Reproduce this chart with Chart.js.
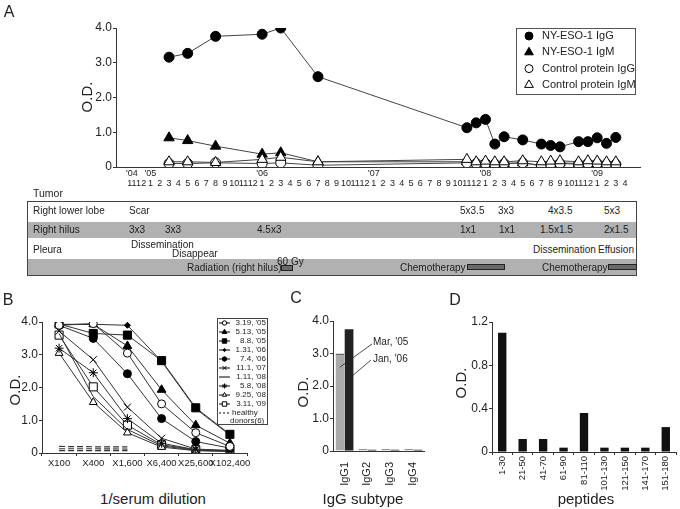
<!DOCTYPE html>
<html>
<head>
<meta charset="utf-8">
<script src="https://cdn.jsdelivr.net/npm/chart.js@4.4.0/dist/chart.umd.min.js"></script>
<style>
  body { margin: 0; background: #fff; }
  #wrap { position: relative; width: 680px; height: 509px; overflow: hidden; font-family: Arial, "Liberation Sans", sans-serif; color: #222; }
  canvas { position: absolute; }
  .c { position: absolute; white-space: nowrap; line-height: 1; transform: translate(-50%, -50%); }
  .v { position: absolute; white-space: nowrap; line-height: 1; transform: translate(-50%, -50%) rotate(-90deg); }
  .l { position: absolute; white-space: nowrap; line-height: 1; font-size: 10px; transform: translateY(-50%); }
  .row { position: absolute; left: 27px; width: 610px; }
  .grey { background: #b1b1b1; }
  .tbar { position: absolute; height: 4px; background: #6a6a6a; border: 1px solid #222; }
</style>
</head>
<body>
<div id="wrap">
  <canvas id="chartA" width="680" height="200" style="left:0;top:0"></canvas>
  <canvas id="chartB" width="270" height="178" style="left:0;top:300px"></canvas>
  <canvas id="chartC" width="140" height="192" style="left:290px;top:300px"></canvas>
  <canvas id="chartD" width="240" height="205" style="left:440px;top:300px"></canvas>

  <!-- judul panel dan sumbu -->
  <div class="c" style="left:9px;top:12px;font-size:16px">A</div>
  <div class="v" style="left:86px;top:97px;font-size:15px">O.D.</div>
  <div class="c" style="left:8px;top:300px;font-size:16px">B</div>
  <div class="v" style="left:14px;top:390px;font-size:15px">O.D.</div>
  <div class="c" style="left:153px;top:498px;font-size:15px">1/serum dilution</div>
  <div class="c" style="left:296px;top:298px;font-size:16px">C</div>
  <div class="v" style="left:302px;top:392px;font-size:15px">O.D.</div>
  <div class="c" style="left:363px;top:498px;font-size:15px">IgG subtype</div>
  <div class="c" style="left:455px;top:300px;font-size:16px">D</div>
  <div class="v" style="left:460px;top:383px;font-size:15px">O.D.</div>
  <div class="c" style="left:586px;top:498px;font-size:15px">peptides</div>

  <!-- tabel tumor -->
  <div class="l" style="left:33px;top:193px;font-size:10.5px">Tumor</div>
  <div class="row grey" style="top:222px;height:16px"></div>
  <div class="row grey" style="top:259px;height:17px"></div>
  <div class="row" style="top:201px;height:75px;border:1px solid #444;box-sizing:border-box"></div>

  <div class="l" style="left:33px;top:211px">Right lower lobe</div>
  <div class="l" style="left:129px;top:211px">Scar</div>
  <div class="l" style="left:460px;top:211px">5x3.5</div>
  <div class="l" style="left:498px;top:211px">3x3</div>
  <div class="l" style="left:548px;top:211px">4x3.5</div>
  <div class="l" style="left:604px;top:211px">5x3</div>

  <div class="l" style="left:33px;top:230px">Right hilus</div>
  <div class="l" style="left:129px;top:230px">3x3</div>
  <div class="l" style="left:165px;top:230px">3x3</div>
  <div class="l" style="left:257px;top:230px">4.5x3</div>
  <div class="l" style="left:460px;top:230px">1x1</div>
  <div class="l" style="left:499px;top:230px">1x1</div>
  <div class="l" style="left:540px;top:230px">1.5x1.5</div>
  <div class="l" style="left:604px;top:230px">2x1.5</div>

  <div class="l" style="left:33px;top:250px">Pleura</div>
  <div class="l" style="left:131px;top:245px">Dissemination</div>
  <div class="l" style="left:172px;top:254px">Disappear</div>
  <div class="l" style="left:533px;top:250px">Dissemination</div>
  <div class="l" style="left:598px;top:250px">Effusion</div>

  <div class="l" style="left:187px;top:268px">Radiation (right hilus)</div>
  <div class="l" style="left:277px;top:262px">60 Gy</div>
  <div class="tbar" style="left:281px;top:265px;width:10px"></div>
  <div class="l" style="left:400px;top:268px">Chemotherapy</div>
  <div class="tbar" style="left:467px;top:264px;width:36px"></div>
  <div class="l" style="left:542px;top:268px">Chemotherapy</div>
  <div class="tbar" style="left:608px;top:264px;width:27px"></div>
</div>

<script>
// ---- Panel A: titer antibodi per bulan (Nov '04 = indeks 0) ----
const bulanLabel = ['11','12',
  '1','2','3','4','5','6','7','8','9','10','11','12',
  '1','2','3','4','5','6','7','8','9','10','11','12',
  '1','2','3','4','5','6','7','8','9','10','11','12',
  '1','2','3','4','5','6','7','8','9','10','11','12',
  '1','2','3','4'];
const tahunPos = [0, 2, 14, 26, 38, 50];
const tahunLabel = ["'04", "'05", "'06", "'07", "'08", "'09"];

const bulanSampel = [4, 6, 9, 14, 16, 20, 36, 37, 38, 39, 40, 42, 44, 45, 46, 48, 49, 50, 51, 52];
const esoIgG  = [3.16, 3.27, 3.76, 3.82, 4.0, 2.6, 1.13, 1.27, 1.37, 0.66, 0.87, 0.78, 0.66, 0.62, 0.58, 0.73, 0.73, 0.84, 0.68, 0.85];
const esoIgM  = [0.84, 0.76, 0.6, 0.37, 0.41, 0.15, 0.15, 0.12, 0.12, 0.1, 0.1, 0.12, 0.03, 0.1, 0.12, 0.1, 0.12, 0.1, 0.1, 0.03];
const ctrlIgG = [0.1, 0.1, 0.12, 0.1, 0.12, 0.05, 0.12, 0.1, 0.1, 0.08, 0.1, 0.12, 0.05, 0.08, 0.1, 0.08, 0.1, 0.1, 0.08, 0.08];
const ctrlIgM = [0.15, 0.15, 0.13, 0.22, 0.28, 0.15, 0.22, 0.15, 0.17, 0.15, 0.15, 0.18, 0.15, 0.17, 0.18, 0.15, 0.18, 0.17, 0.15, 0.15];

// ---- Panel B: kurva pengenceran serum ----
const pengenceran = ['X100', 'X400', 'X1,600', 'X6,400', 'X25,600', 'X102,400'];
const tglSerum = ["3.19, '05", "5.13, '05", "8.8, '05", "1.31, '06", "7.4, '06", "11.1, '07", "1.11, '08", "5.8, '08", "9.25, '08", "3.11, '09"];
const s0319_05 = [3.9, 3.95, 3.05, 1.5, 0.62, 0.2];
const s0513_05 = [3.93, 3.93, 3.27, 1.93, 0.85, 0.3];
const s0808_05 = [3.94, 3.65, 3.6, 2.82, 1.38, 0.57];
const s0131_06 = [3.92, 3.93, 3.9, 2.8, 1.35, 0.55];
const s0704_06 = [3.9, 3.5, 2.42, 1.05, 0.35, 0.15];
const s1101_07 = [3.72, 2.85, 1.4, 0.45, 0.12, 0.08];
const s0111_08 = [3.65, 1.72, 0.72, 0.22, 0.08, 0.05];
const s0508_08 = [3.2, 2.45, 1.05, 0.3, 0.1, 0.06];
const s0925_08 = [3.05, 1.55, 0.62, 0.18, 0.07, 0.05];
const s0311_09 = [3.6, 2.02, 0.85, 0.25, 0.1, 0.07];
const donorSehat = [
  [0.2, 0.19, 0.19], [0.13, 0.13, 0.12], [0.07, 0.07, 0.07]
];

// ---- Panel C: subtipe IgG ----
const subtipe = ['IgG1', 'IgG2', 'IgG3', 'IgG4'];
const subMar05 = [3.0, 0.06, 0.06, 0.06];
const subJan06 = [3.75, 0.04, 0.04, 0.04];

// ---- Panel D: peptida ----
const peptida = ['1-30', '21-50', '41-70', '61-90', '81-110', '101-130', '121-150', '141-170', '151-180'];
const odPeptida = [1.1, 0.12, 0.12, 0.04, 0.36, 0.04, 0.04, 0.04, 0.23];

Chart.defaults.font.family = 'Arial, "Liberation Sans", sans-serif';
Chart.defaults.color = '#222';
Chart.defaults.animation = false;
Chart.defaults.plugins.legend.display = false;
Chart.defaults.plugins.tooltip.enabled = false;

const garis = '#333';

// Menggambar satu penanda (untuk legenda buatan sendiri)
function gambarPenanda(ctx, gaya, x, y, r, isi, tepi) {
  ctx.save();
  ctx.beginPath();
  ctx.fillStyle = isi;
  ctx.strokeStyle = tepi;
  ctx.lineWidth = 1;
  if (gaya === 'circle') {
    ctx.arc(x, y, r, 0, Math.PI * 2);
  } else if (gaya === 'triangle') {
    ctx.moveTo(x, y - r); ctx.lineTo(x + r * 0.866, y + r * 0.5); ctx.lineTo(x - r * 0.866, y + r * 0.5); ctx.closePath();
  } else if (gaya === 'rect') {
    const s = r * Math.SQRT1_2; ctx.rect(x - s, y - s, 2 * s, 2 * s);
  } else if (gaya === 'rectRot') {
    ctx.moveTo(x, y - r); ctx.lineTo(x + r, y); ctx.lineTo(x, y + r); ctx.lineTo(x - r, y); ctx.closePath();
  } else if (gaya === 'crossRot' || gaya === 'star') {
    const s = r * Math.SQRT1_2;
    ctx.moveTo(x - s, y - s); ctx.lineTo(x + s, y + s); ctx.moveTo(x + s, y - s); ctx.lineTo(x - s, y + s);
    if (gaya === 'star') { ctx.moveTo(x, y - r); ctx.lineTo(x, y + r); ctx.moveTo(x - r, y); ctx.lineTo(x + r, y); }
    ctx.stroke(); ctx.restore(); return;
  } else { ctx.restore(); return; }
  ctx.fill(); ctx.stroke();
  ctx.restore();
}

function sumbuY(max, step, lebar) {
  return {
    min: 0, max: max,
    afterFit: s => { s.width = lebar; },
    border: { display: true, color: garis },
    grid: { display: true, drawOnChartArea: false, tickLength: 3, color: garis },
    ticks: { stepSize: step, padding: 1, font: { size: 12 }, callback: v => v === 0 ? '0' : Number(v).toFixed(1) }
  };
}

// ================= Panel A =================
const titik = arr => bulanSampel.map((m, i) => ({ x: m, y: arr[i] }));
const legendaA = {
  id: 'legendaA',
  afterDraw(chart) {
    const ctx = chart.ctx;
    ctx.save();
    ctx.strokeStyle = '#555'; ctx.lineWidth = 1;
    ctx.strokeRect(516.5, 28.5, 119, 66);
    ctx.font = '11px Arial, "Liberation Sans", sans-serif';
    ctx.textBaseline = 'middle';
    chart.data.datasets.forEach((ds, i) => {
      const y = 36 + i * 16.3;
      gambarPenanda(ctx, ds.pointStyle, 529, y, ds.pointStyle === 'triangle' ? 5 : 4, ds.pointBackgroundColor, '#000');
      ctx.fillStyle = '#222';
      ctx.fillText(ds.label, 542, y);
    });
    ctx.restore();
  }
};

new Chart(document.getElementById('chartA'), {
  type: 'line',
  data: {
    datasets: [
      { label: 'NY-ESO-1 IgG', data: titik(esoIgG), pointStyle: 'circle', pointRadius: 5, pointBackgroundColor: '#000', order: 3 },
      { label: 'NY-ESO-1 IgM', data: titik(esoIgM), pointStyle: 'triangle', pointRadius: 6, pointBackgroundColor: '#000', order: 2 },
      { label: 'Control protein IgG', data: titik(ctrlIgG), pointStyle: 'circle', pointRadius: 5, pointBackgroundColor: '#fff', order: 1 },
      { label: 'Control protein IgM', data: titik(ctrlIgM), pointStyle: 'triangle', pointRadius: 6, pointBackgroundColor: '#fff', order: 0 }
    ].map(d => Object.assign({ borderColor: '#444', borderWidth: 1, pointBorderColor: '#000', pointBorderWidth: 1, tension: 0 }, d))
  },
  options: {
    responsive: false,
    layout: { padding: { left: 76, right: 40, top: 28, bottom: 7 } },
    scales: {
      x: {
        type: 'linear', min: -1.7, max: 54.6,
        afterBuildTicks: s => { s.ticks = bulanLabel.map((_, i) => ({ value: i })); },
        afterFit: s => { s.height = 26; },
        border: { display: true, color: garis },
        grid: { display: false },
        ticks: {
          autoSkip: false, maxRotation: 0, minRotation: 0, padding: -6,
          font: { size: 9, lineHeight: 1.05 },
          callback: v => {
            const k = tahunPos.indexOf(v);
            return [k >= 0 ? tahunLabel[k] : '', bulanLabel[v]];
          }
        }
      },
      y: sumbuY(4, 1, 40)
    }
  },
  plugins: [legendaA]
});

// ================= Panel B =================
const gayaB = [
  { s: 'circle', r: 4, f: '#fff' }, { s: 'triangle', r: 5, f: '#000' }, { s: 'rect', r: 5.7, f: '#000' },
  { s: 'rectRot', r: 3, f: '#000' }, { s: 'circle', r: 4, f: '#000' }, { s: 'crossRot', r: 5, f: '#000' },
  { s: 'circle', r: 0, f: '#000' }, { s: 'star', r: 4.5, f: '#000' }, { s: 'triangle', r: 4.5, f: '#fff' },
  { s: 'rect', r: 5.7, f: '#fff' }
];
const seriB = [s0319_05, s0513_05, s0808_05, s0131_06, s0704_06, s1101_07, s0111_08, s0508_08, s0925_08, s0311_09];

const dataB = seriB.map((arr, i) => ({
  label: tglSerum[i], data: arr, borderColor: garis, borderWidth: 1,
  pointStyle: gayaB[i].s, pointRadius: gayaB[i].r, pointBackgroundColor: gayaB[i].f,
  pointBorderColor: '#000', pointBorderWidth: 1, order: i
})).concat(donorSehat.map(arr => ({
  label: 'healthy donors(6)', data: arr, borderColor: garis, borderWidth: 1.2, borderDash: [6, 3], pointRadius: 0, order: 20
})));

const legendaB = {
  id: 'legendaB',
  afterDraw(chart) {
    const ctx = chart.ctx;
    ctx.save();
    ctx.strokeStyle = '#444'; ctx.lineWidth = 1;
    ctx.strokeRect(217.5, 18.5, 50, 106);
    ctx.font = '8px Arial, "Liberation Sans", sans-serif';
    ctx.textBaseline = 'middle';
    tglSerum.forEach((t, i) => {
      const y = 23 + i * 9;
      ctx.strokeStyle = '#000';
      ctx.beginPath(); ctx.moveTo(219, y); ctx.lineTo(230, y); ctx.stroke();
      gambarPenanda(ctx, gayaB[i].s, 224.5, y, gayaB[i].r * 0.55, gayaB[i].f, '#000');
      ctx.fillStyle = '#222'; ctx.textAlign = 'right';
      ctx.fillText(t, 266, y);
    });
    const y = 23 + 10 * 9;
    ctx.setLineDash([2, 2]);
    ctx.beginPath(); ctx.moveTo(219, y); ctx.lineTo(231, y); ctx.stroke();
    ctx.setLineDash([]);
    ctx.textAlign = 'left';
    ctx.fillText('healthy', 232, y);
    ctx.fillText('donors(6)', 230, y + 8);
    ctx.restore();
  }
};

new Chart(document.getElementById('chartB'), {
  type: 'line',
  data: { labels: pengenceran, datasets: dataB },
  options: {
    responsive: false,
    layout: { padding: { left: 12, right: 23, top: 22, bottom: 5 } },
    scales: {
      x: {
        offset: true,
        afterFit: s => { s.height = 20; },
        border: { display: true, color: garis },
        grid: { display: true, drawOnChartArea: false, offset: true, tickLength: 3, color: garis },
        ticks: { autoSkip: false, maxRotation: 0, padding: 2, font: { size: 9.5 } }
      },
      y: sumbuY(4, 1, 30)
    }
  },
  plugins: [legendaB]
});

// ================= Panel C =================
const catatanC = {
  id: 'catatanC',
  afterDatasetsDraw(chart) {
    const ctx = chart.ctx, y = chart.scales.y;
    const abu = chart.getDatasetMeta(0).data[0], hitam = chart.getDatasetMeta(1).data[0];
    ctx.save();
    ctx.strokeStyle = '#222'; ctx.lineWidth = 0.8;
    ctx.beginPath();
    ctx.moveTo(abu.x, y.getPixelForValue(2.58)); ctx.lineTo(82, 44);
    ctx.moveTo(hitam.x + 2, y.getPixelForValue(2.28)); ctx.lineTo(81, 60);
    ctx.stroke();
    ctx.fillStyle = '#222';
    ctx.font = '10px Arial, "Liberation Sans", sans-serif';
    ctx.textBaseline = 'middle';
    ctx.fillText("Mar, '05", 83, 42);
    ctx.fillText("Jan, '06", 83, 59);
    ctx.restore();
  }
};

new Chart(document.getElementById('chartC'), {
  type: 'bar',
  data: {
    labels: subtipe,
    datasets: [
      { label: "Mar, '05", data: subMar05, backgroundColor: '#aaaaaa', borderColor: '#666', borderWidth: { top: 2, left: 0, right: 0, bottom: 0 } },
      { label: "Jan, '06", data: subJan06, backgroundColor: '#222222', borderColor: '#111', borderWidth: 0 }
    ]
  },
  options: {
    responsive: false,
    categoryPercentage: 0.8, barPercentage: 0.95,
    layout: { padding: { left: 15, right: 4, top: 21, bottom: 5 } },
    scales: {
      x: {
        afterFit: s => { s.height = 36; },
        border: { display: true, color: garis },
        grid: { display: false },
        ticks: { autoSkip: false, minRotation: 90, maxRotation: 90, padding: 3, font: { size: 11 } }
      },
      y: sumbuY(4, 1, 28)
    }
  },
  plugins: [catatanC]
});

// ================= Panel D =================
new Chart(document.getElementById('chartD'), {
  type: 'bar',
  data: {
    labels: peptida,
    datasets: [{ label: 'O.D.', data: odPeptida, backgroundColor: '#111', borderWidth: 0 }]
  },
  options: {
    responsive: false,
    categoryPercentage: 1, barPercentage: 0.41,
    layout: { padding: { left: 20, right: 4, top: 22, bottom: 9 } },
    scales: {
      x: {
        afterFit: s => { s.height = 44; },
        border: { display: true, color: garis },
        grid: { display: true, drawOnChartArea: false, offset: true, tickLength: 3, color: garis },
        ticks: { autoSkip: false, minRotation: 90, maxRotation: 90, padding: 1, font: { size: 9.5 } }
      },
      y: sumbuY(1.2, 0.4, 32)
    }
  }
});
</script>
</body>
</html>
